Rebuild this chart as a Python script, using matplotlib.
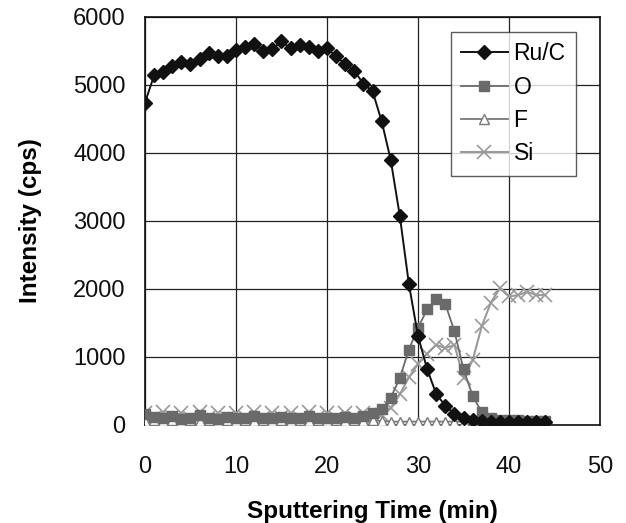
import numpy as np
import matplotlib
matplotlib.use("Agg")
import matplotlib.pyplot as plt

# ---------------- data (1 point per minute) ----------------
time_min = list(range(0, 45))

ru_c = [4740, 5140, 5190, 5280, 5340, 5310, 5380, 5470, 5430, 5430,
        5515, 5565, 5600, 5505, 5530, 5640, 5540, 5590, 5565, 5505,
        5540, 5420, 5310, 5210, 5015, 4910, 4470, 3900, 3075, 2070,
        1310, 825, 455, 285, 160, 110, 80, 60, 50, 45,
        45, 40, 40, 40, 40]

oxygen = [160, 120, 100, 130, 90, 110, 140, 100, 90, 120,
          110, 100, 130, 100, 110, 120, 100, 110, 130, 100,
          110, 100, 120, 110, 130, 170, 230, 400, 690, 1110,
          1430, 1700, 1850, 1780, 1380, 820, 430, 190, 100, 80,
          70, 70, 60, 60, 60]

fluorine = [60, 70, 60, 70, 60, 80, 60, 70, 60, 70,
            60, 70, 60, 70, 60, 70, 60, 70, 60, 70,
            60, 70, 60, 70, 60, 70, 60, 50, 50, 50,
            50, 50, 50, 50, 50, 50, 50, 50, 50, 50,
            50, 50, 50, 60, 60]

silicon = [170, 110, 190, 120, 180, 110, 190, 120, 170, 110,
           180, 120, 190, 110, 170, 120, 180, 110, 190, 120,
           170, 110, 180, 120, 170, 110, 140, 250, 450, 700,
           900, 1050, 1180, 1130, 1180, 690, 950, 1450, 1800, 2010,
           1890, 1910, 1960, 1910, 1910]

x_ticks = [0, 10, 20, 30, 40, 50]
y_ticks = [0, 1000, 2000, 3000, 4000, 5000, 6000]

# ---------------- figure --------------------------------------------------------
plt.rcParams['font.family'] = ['Liberation Sans', 'DejaVu Sans']

fig = plt.figure(figsize=(6.26, 5.23), dpi=100)
ax = fig.add_axes([0.2316, 0.1874, 0.7269, 0.7801])

ax.plot(time_min, ru_c, color="#111111", lw=1.4, marker="D", ms=7,
        mfc="#111111", mec="#111111", label="Ru/C", zorder=5)
ax.plot(time_min, oxygen, color="#6a6a6a", lw=1.3, marker="s", ms=7,
        mfc="#6a6a6a", mec="#6a6a6a", label="O", zorder=4)
ax.plot(time_min, fluorine, color="#7a7a7a", lw=1.3, marker="^", ms=7,
        mfc="white", mec="#7a7a7a", mew=1.0, label="F", zorder=3)
ax.plot(time_min, silicon, color="#9a9a9a", lw=1.5, marker="x", ms=10,
        mec="#9a9a9a", mew=1.2, label="Si", zorder=2)

ax.set_xlim(0, 50)
ax.set_ylim(0, 6000)
ax.set_xticks(x_ticks)
ax.set_yticks(y_ticks)
ax.grid(True, color="#222222", lw=0.9)
ax.set_axisbelow(True)
for sp in ax.spines.values():
    sp.set_color("#111111")
    sp.set_linewidth(1.2)

ax.tick_params(axis="both", length=0, labelsize=17, colors="#111111")
ax.tick_params(axis="x", pad=22)
ax.tick_params(axis="y", pad=14)

ax.set_xlabel("Sputtering Time (min)", fontsize=17.5, fontweight="bold", labelpad=16)
ax.set_ylabel("Intensity (cps)", fontsize=17.5, fontweight="bold", labelpad=22)

leg = ax.legend(loc="upper right", bbox_to_anchor=(0.947, 0.963), fontsize=16.5,
                frameon=True, fancybox=False, edgecolor="#333333",
                handlelength=2.05, handletextpad=0.25, labelspacing=0.45,
                borderpad=0.45, borderaxespad=0)
leg.get_frame().set_linewidth(1.0)

fig.savefig("out.png", dpi=100)
